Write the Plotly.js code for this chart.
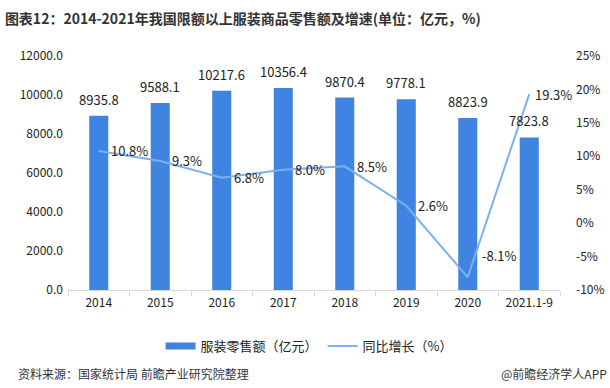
<!DOCTYPE html>
<html><head><meta charset="utf-8">
<script src="https://cdn.plot.ly/plotly-3.0.1.min.js"></script>
<style>body{margin:0;background:#fff}#c{width:610px;height:388px}</style>
</head><body><div id="c"></div>
<script>
const categories = ["2014","2015","2016","2017","2018","2019","2020","2021.1-9"];
const salesValues = [8935.8, 9588.1, 10217.6, 10356.4, 9870.4, 9778.1, 8823.9, 7823.8];
const growthValues = [10.8, 9.3, 6.8, 8.0, 8.5, 2.6, -8.1, 19.3];
const leftTicks = [0, 2000, 4000, 6000, 8000, 10000, 12000];
const rightTicks = [-10, -5, 0, 5, 10, 15, 20, 25];

const font = "Noto Sans CJK SC, Noto Sans, sans-serif";
const barColor = "#3F84E0", lineColor = "#7EB0F0";
const data = [
  {type:"bar", x:categories, y:salesValues, name:"服装零售额（亿元）", showlegend:false,
   marker:{color:barColor}, width:0.31, hoverinfo:"none"},
  {type:"scatter", mode:"lines", x:categories, y:categories.map(()=>null), name:"服装零售额（亿元）",
   line:{color:barColor, width:7}, hoverinfo:"none"},
  {type:"scatter", mode:"lines", x:categories, y:growthValues, yaxis:"y2",
   name:"同比增长（%）", line:{color:lineColor, width:2}, hoverinfo:"none"}
];
const lastIdx = categories.length - 1;
const barLabels = categories.map((c,i)=>({
  x:i, y:salesValues[i], xref:"x", yref:"y", text:salesValues[i].toFixed(1),
  showarrow:false, xanchor:"center", yanchor:"bottom", yshift:5,
  font:{size:13, color:"#222", family:font}
}));
const lineLabels = categories.map((c,i)=>({
  x:i, y:growthValues[i], xref:"x", yref:"y2", text:growthValues[i].toFixed(1)+"%",
  showarrow:false, xanchor:"left", yanchor:"middle",
  xshift:i===6?12:(i===lastIdx?4:10), yshift:i===6?22:0,
  font:{size:13, color:"#222", family:font}
}));
const layout = {
  width:610, height:388, margin:{l:68, r:50, t:56, b:98},
  paper_bgcolor:"#fff", plot_bgcolor:"#fff",
  font:{family:font, color:"#222", size:12},
  title:{text:"<b>图表12：2014-2021年我国限额以上服装商品零售额及增速(单位：亿元，%)</b>",
         x:0.008, xanchor:"left", y:0.952, yanchor:"middle", font:{size:14, color:"#333", family:font}},
  showlegend:true,
  legend:{orientation:"h", x:0.49, xanchor:"center", y:-0.24, yanchor:"middle",
          font:{size:13, color:"#222", family:font}, traceorder:"normal", itemwidth:30},
  xaxis:{type:"category", categoryarray:categories, categoryorder:"array",
         range:[-0.5, categories.length-0.5], showline:true, linecolor:"#d9d9d9", linewidth:1,
         ticks:"outside", tickson:"boundaries", ticklen:5, tickcolor:"#d9d9d9",
         ticklabelstandoff:2,
         tickfont:{size:12, color:"#222", family:font}, showgrid:false, zeroline:false},
  yaxis:{range:[0,12000], tickvals:leftTicks, ticktext:leftTicks.map(v=>v.toFixed(1)),
         showgrid:false, zeroline:false, showline:false, ticks:"", ticklabelstandoff:4,
         tickfont:{size:12, color:"#222", family:font}},
  yaxis2:{range:[-10,25], overlaying:"y", side:"right", tickvals:rightTicks,
          ticktext:rightTicks.map(v=>v+"%"), showgrid:false, zeroline:false, showline:false,
          ticks:"", ticklabelstandoff:15,
          tickfont:{size:12, color:"#222", family:font}},
  annotations:barLabels.concat(lineLabels, [
    {text:"资料来源：国家统计局 前瞻产业研究院整理", xref:"paper", yref:"paper", x:-0.105, y:-0.355,
     xanchor:"left", yanchor:"middle", showarrow:false, font:{size:12, color:"#333", family:font}},
    {text:"@前瞻经济学人APP", xref:"paper", yref:"paper", x:1.1, y:-0.355,
     xanchor:"right", yanchor:"middle", showarrow:false, font:{size:12, color:"#333", family:font}}
  ])
};
Plotly.newPlot("c", data, layout, {displayModeBar:false, staticPlot:true});
</script></body></html>
